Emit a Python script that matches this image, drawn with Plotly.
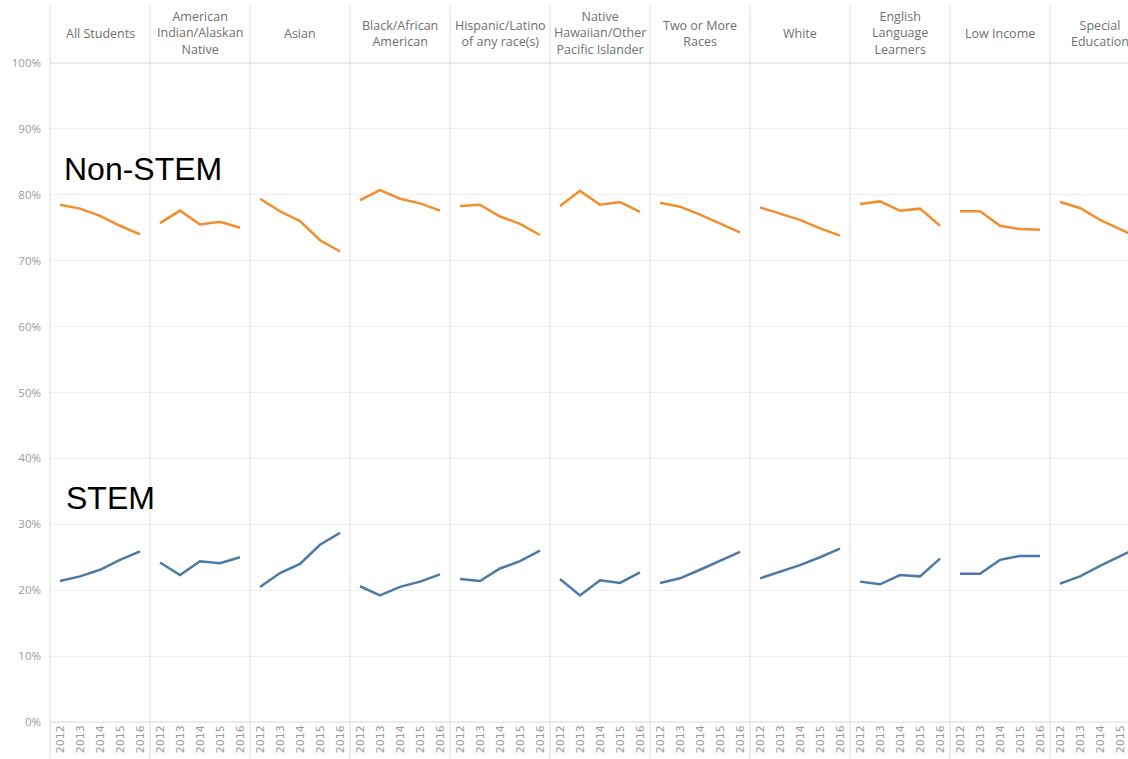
import plotly.graph_objects as go

years = [2012, 2013, 2014, 2015, 2016]
year_labels = ["2012", "2013", "2014", "2015", "2016"]

groups = [
    "All Students",
    "American<br>Indian/Alaskan<br>Native",
    "Asian",
    "Black/African<br>American",
    "Hispanic/Latino<br>of any race(s)",
    "Native<br>Hawaiian/Other<br>Pacific Islander",
    "Two or More<br>Races",
    "White",
    "English<br>Language<br>Learners",
    "Low Income",
    "Special<br>Education",
]

# Share of graduates (percent), one list per group, in the order of `groups`
non_stem = [
    [78.5, 77.9, 76.8, 75.3, 74.0],
    [75.7, 77.6, 75.5, 75.9, 75.0],
    [79.4, 77.5, 76.0, 73.1, 71.4],
    [79.2, 80.7, 79.4, 78.7, 77.6],
    [78.3, 78.5, 76.7, 75.6, 73.9],
    [78.3, 80.6, 78.5, 78.9, 77.4],
    [78.8, 78.2, 77.0, 75.6, 74.3],
    [78.1, 77.2, 76.2, 74.9, 73.8],
    [78.6, 79.0, 77.6, 77.9, 75.3],
    [77.5, 77.5, 75.3, 74.8, 74.7],
    [78.9, 78.0, 76.2, 74.8, 73.4],
]
stem = [
    [21.4, 22.1, 23.1, 24.6, 25.9],
    [24.2, 22.3, 24.4, 24.1, 25.0],
    [20.5, 22.6, 24.0, 26.9, 28.7],
    [20.6, 19.2, 20.5, 21.3, 22.4],
    [21.7, 21.4, 23.3, 24.4, 26.0],
    [21.7, 19.2, 21.5, 21.1, 22.7],
    [21.1, 21.8, 23.1, 24.5, 25.8],
    [21.8, 22.8, 23.8, 25.0, 26.3],
    [21.3, 20.9, 22.3, 22.1, 24.8],
    [22.5, 22.5, 24.6, 25.2, 25.2],
    [21.0, 22.1, 23.7, 25.2, 26.6],
]
y_ticks = list(range(0, 101, 10))
y_tick_labels = [f"{v}%" for v in y_ticks]

ORANGE = "#f28e2b"
BLUE = "#4e79a7"
GRID = "#f1f1f1"
DIV = "#dadada"
LABEL = "#9a9a9a"
HEAD = "#707070"

W, H = 1128, 759
ML, MR, MT, MB = 50, 0, 63, 37
PW = W - ML - MR
PH = H - MT - MB
PANE = 100

fig = go.Figure()
layout = dict(
    width=W, height=H,
    margin=dict(l=ML, r=MR, t=MT, b=MB, pad=0),
    plot_bgcolor="white", paper_bgcolor="white",
    showlegend=False, hovermode=False,
    font=dict(family="Open Sans", color=LABEL),
)

n = len(groups)
shapes = []
annotations = []
for i in range(n):
    ax = "" if i == 0 else str(i + 1)
    x0 = PANE * i / PW
    x1 = min(1.0, PANE * (i + 1) / PW)
    width_px = (x1 - x0) * PW
    xr = [2011.5, 2011.5 + 5 * width_px / PANE]
    layout["xaxis" + ax] = dict(
        domain=[x0, x1], range=xr, anchor="y",
        tickvals=years, ticktext=year_labels, tickangle=-90,
        tickfont=dict(size=11, color=LABEL, family="DejaVu Sans"),
        showgrid=False, zeroline=False, showline=False, ticks="",
        fixedrange=True,
    )
    fig.add_trace(go.Scatter(x=years, y=non_stem[i], xaxis="x" + ax, yaxis="y",
                             mode="lines", line=dict(color=ORANGE, width=2.5)))
    fig.add_trace(go.Scatter(x=years, y=stem[i], xaxis="x" + ax, yaxis="y",
                             mode="lines", line=dict(color=BLUE, width=2.5)))
    # pane divider
    shapes.append(dict(type="line", xref="paper", yref="paper",
                       x0=x0, x1=x0, y0=-MB / PH, y1=(PH + MT - 5) / PH,
                       line=dict(color=DIV, width=1), layer="above"))
    # header
    annotations.append(dict(text=groups[i], xref="paper", yref="paper",
                            x=(PANE * i + PANE / 2) / PW, y=(PH + MT - 33) / PH,
                            xanchor="center", yanchor="middle", showarrow=False,
                            font=dict(size=12.5, color=HEAD, family="Open Sans")))

layout["yaxis"] = dict(
    range=[0, 100], tickvals=y_ticks, ticktext=y_tick_labels, anchor="x",
    showgrid=True, gridcolor=GRID, gridwidth=1, zeroline=False, showline=False,
    ticks="", tickfont=dict(size=11.5, color=LABEL, family="Open Sans"),
    ticklabelstandoff=8, fixedrange=True,
)

shapes.append(dict(type="line", xref="paper", yref="paper", x0=0, x1=1, y0=1, y1=1,
                   line=dict(color=DIV, width=1)))
shapes.append(dict(type="line", xref="paper", yref="paper", x0=0, x1=1, y0=0, y1=0,
                   line=dict(color=DIV, width=1)))

annotations.append(dict(text="Non-STEM", xref="paper", yref="paper",
                        x=12 / PW, y=(PH + MT - 169) / PH, xanchor="left", yanchor="middle",
                        showarrow=False, font=dict(size=32, color="black", family="Liberation Sans")))
annotations.append(dict(text="STEM", xref="paper", yref="paper",
                        x=14 / PW, y=(PH + MT - 498) / PH, xanchor="left", yanchor="middle",
                        showarrow=False, font=dict(size=32, color="black", family="Liberation Sans")))

layout["shapes"] = shapes
layout["annotations"] = annotations
fig.update_layout(**layout)
fig.write_html("out.html", config={"displayModeBar": False},
               post_script="document.body.style.margin='0px';")
